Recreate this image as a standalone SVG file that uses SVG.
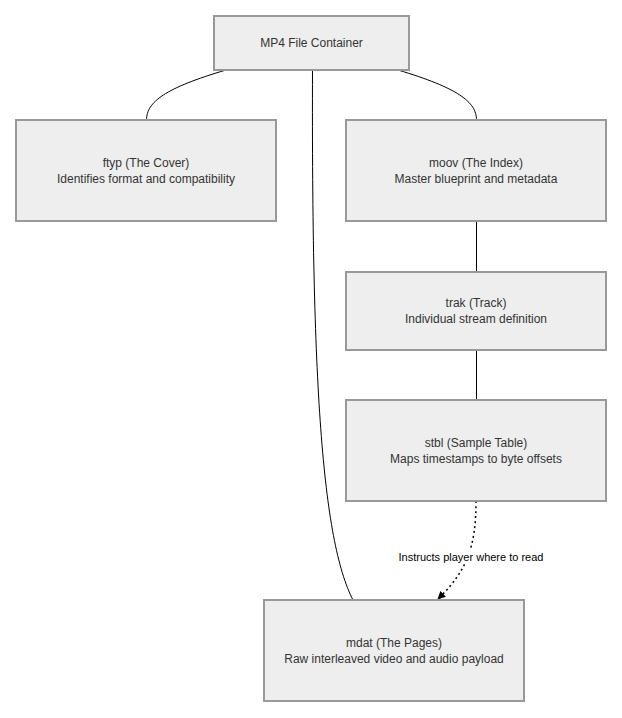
<svg xmlns="http://www.w3.org/2000/svg" width="622" height="718" viewBox="0 0 622 718">
<style>
.n{fill:#eeeeee;stroke:#999999;stroke-width:2}
.t{font-family:"Liberation Sans",Arial,sans-serif;font-size:12px;fill:#333333;text-anchor:middle}
.c{fill:none;stroke:#000000;stroke-width:1}
.d{fill:none;stroke:#000000;stroke-width:1.5;stroke-dasharray:2 3}
.l{font-family:"Liberation Sans",Arial,sans-serif;font-size:11px;fill:#000000;text-anchor:middle}
</style>
<defs>
<marker id="ah" viewBox="0 0 10 10" refX="9" refY="5" markerWidth="8" markerHeight="8" markerUnits="userSpaceOnUse" orient="auto">
<path d="M0,0 L10,5 L0,10 Z" fill="#000"/>
</marker>
</defs>
<rect width="622" height="718" fill="#ffffff"/>
<g id="connectors">
<path class="c" d="M226,70 C165,88 146.5,102 146.5,120"/>
<path class="c" d="M398,70 C458,88 476.5,102 476.5,120"/>
<path class="c" d="M312.5,70 C311.5,380 322,540 353,600"/>
<path class="c" d="M476.5,221 L476.5,272"/>
<path class="c" d="M476.5,350 L476.5,400"/>
<path class="d" d="M476,501 C476,545 468,570 438,599" marker-end="url(#ah)"/>
<rect x="398" y="549" width="146" height="15" fill="#ffffff"/>
<text class="l" x="471" y="561">Instructs player where to read</text>
</g>
<g id="mp4"><rect class="n" x="214" y="16" width="195" height="54"/><text class="t" x="311.5" y="47">MP4 File Container</text></g>
<g id="ftyp"><rect class="n" x="16" y="120" width="260" height="101"/><text class="t" x="146" y="167">ftyp (The Cover)</text><text class="t" x="146" y="183">Identifies format and compatibility</text></g>
<g id="moov"><rect class="n" x="346" y="120" width="260" height="101"/><text class="t" x="476" y="167">moov (The Index)</text><text class="t" x="476" y="183">Master blueprint and metadata</text></g>
<g id="trak"><rect class="n" x="346" y="272" width="260" height="78"/><text class="t" x="476" y="307">trak (Track)</text><text class="t" x="476" y="323">Individual stream definition</text></g>
<g id="stbl"><rect class="n" x="346" y="400" width="260" height="101"/><text class="t" x="476" y="447">stbl (Sample Table)</text><text class="t" x="476" y="463">Maps timestamps to byte offsets</text></g>
<g id="mdat"><rect class="n" x="264" y="600" width="260" height="101"/><text class="t" x="394" y="647">mdat (The Pages)</text><text class="t" x="394" y="663">Raw interleaved video and audio payload</text></g>
</svg>
